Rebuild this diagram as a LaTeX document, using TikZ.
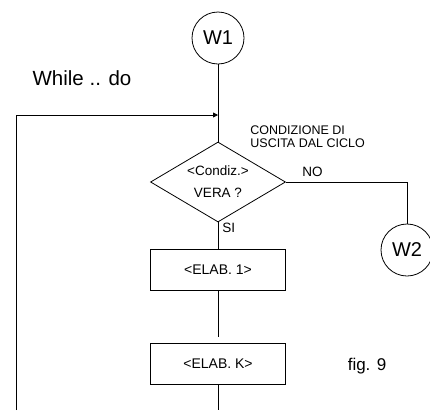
\documentclass[tikz,border=0pt]{standalone}
\usepackage{fontspec}
\setmainfont{Liberation Sans}
\usetikzlibrary{positioning, arrows.meta, shapes.geometric}

\begin{document}
\begin{tikzpicture}[x=1pt, y=-1pt, >={Triangle[length=5pt, width=5pt]}, line width=0.8pt,
  connCircle/.style={draw, circle, minimum size=52pt, inner sep=0pt, font=\fontsize{20}{24}\selectfont},
  condDiamond/.style={draw, diamond, aspect=1.7, minimum width=135pt, minimum height=80pt,
    inner sep=0pt, align=center, font=\fontsize{13.5}{22}\selectfont},
  procBox/.style={draw, rectangle, minimum width=135pt, minimum height=41pt, font=\fontsize{14}{16}\selectfont},
  lbl/.style={inner sep=0pt, font=\fontsize{13.5}{13}\selectfont}]
  \useasboundingbox (0,0) rectangle (430,410);

  % entry and title
  \node[connCircle] (w1) at (218, 38) {W1};
  \node[font=\fontsize{20.5}{24}\selectfont] (title) at (82, 78) {While .. do};
  \coordinate (loopJoin) at (218, 115);

  % test
  \node[condDiamond] (cond) at (218, 182) {<Condiz.>\\VERA ?};
  \node[lbl, anchor=west, align=left, font=\fontsize{12.5}{13}\selectfont] (exitNote) at (250, 137)
    {CONDIZIONE DI\\USCITA DAL CICLO};
  \node[lbl, anchor=west] (noLbl) at (302, 172) {NO};
  \node[lbl, anchor=west] (siLbl) at (222, 228) {SI};
  \node[connCircle] (w2) at (407, 250) {W2};

  % body
  \node[procBox] (elab1) at (218, 270) {<ELAB. 1>};
  \node[procBox] (elabK) at (218, 364) {<ELAB. K>};
  \node[font=\fontsize{17}{20}\selectfont] (figLbl) at (367, 366) {fig. 9};

  \coordinate (gapTop) at (218, 337);
  \coordinate (kOut) at (218, 410);
  \coordinate (loopIn) at (16, 410);
  \coordinate (noTurn) at (w2.north |- cond.east);

  \draw (w1) -- (cond.north);
  \draw[->] (loopIn) |- (loopJoin);
  \draw (cond.east) -- (noTurn) -- (w2.north);
  \draw (cond.south) -- (elab1.north);
  \draw (elab1.south) -- (gapTop);
  \draw (elabK.south) -- (kOut);
\end{tikzpicture}
\end{document}
